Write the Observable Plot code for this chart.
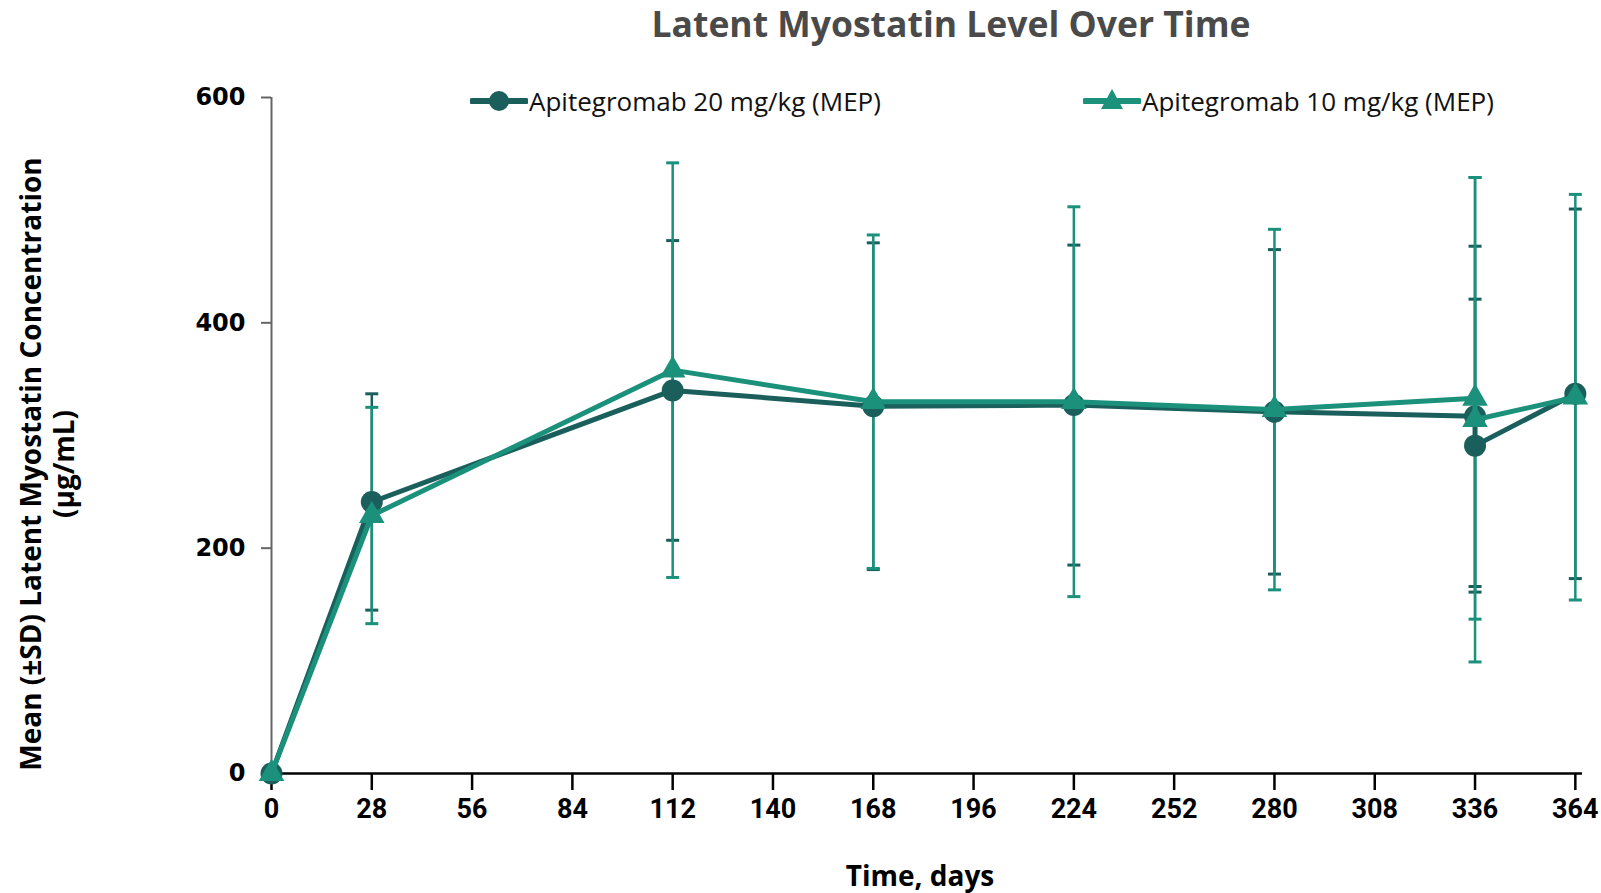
<!DOCTYPE html>
<html>
<head>
<meta charset="utf-8">
<script src="https://cdn.jsdelivr.net/npm/d3@7"></script>
<script src="https://cdn.jsdelivr.net/npm/@observablehq/plot@0.6"></script>
<style>
  html, body { margin: 0; padding: 0; background: #fff; }
  #wrap { position: relative; width: 1601px; height: 893px; overflow: hidden; }
  #chart { position: absolute; left: 0; top: 0; }
  .title { position: absolute; left: 0; width: 1902px; top: 0; height: 46px; line-height: 46px; text-align: center;
           font-family: "Open Sans", sans-serif; font-weight: 700; font-size: 35.5px; color: #4a4a4a; white-space: nowrap; }
  .leg { position: absolute; top: 86px; height: 30px; display: flex; align-items: center; white-space: nowrap;
         font-family: "Open Sans", sans-serif; font-size: 26px; color: #111; }
  .leg svg { margin-right: 1px; }
  .ylab { position: absolute; width: 800px; left: -353px; top: 431px; height: 66px; line-height: 33px; text-align: center;
          transform: rotate(-90deg); font-family: "Open Sans", sans-serif; font-weight: 700; font-size: 28px; color: #000; white-space: nowrap; }
  .xlab { position: absolute; left: 720px; width: 400px; top: 857px; height: 36px; line-height: 36px; text-align: center;
          font-family: "Open Sans", sans-serif; font-weight: 700; font-size: 28px; color: #000; }
</style>
</head>
<body>
<div id="wrap">
  <div id="chart"></div>
  <div class="title">Latent Myostatin Level Over Time</div>
  <div class="leg" style="left:470px">
    <svg width="58" height="30"><line x1="2" y1="15" x2="56" y2="15" stroke="#1a5f5c" stroke-width="6" stroke-linecap="round"/><circle cx="29" cy="15" r="10" fill="#1a5f5c"/></svg>
    <span>Apitegromab 20 mg/kg (MEP)</span>
  </div>
  <div class="leg" style="left:1083px">
    <svg width="58" height="30"><line x1="2" y1="15" x2="56" y2="15" stroke="#1b917b" stroke-width="6" stroke-linecap="round"/><polygon points="29,3 40,23 18,23" fill="#1b917b"/></svg>
    <span>Apitegromab 10 mg/kg (MEP)</span>
  </div>
  <div class="ylab">Mean (±SD) Latent Myostatin Concentration<br>(µg/mL)</div>
  <div class="xlab">Time, days</div>
</div>
<script>
// ---- data ----
const seriesNames = ["Apitegromab 20 mg/kg (MEP)", "Apitegromab 10 mg/kg (MEP)"];
const days20 = [0, 28, 112, 168, 224, 280, 336, 336, 364];
const mean20 = [0, 241, 340, 326, 327, 321, 317, 291, 337];
const sd20   = [0, 96, 133, 145, 142, 144, 151, 130, 164];
const days10 = [0, 28, 112, 168, 224, 280, 336, 336, 364];
const mean10 = [0, 229, 358, 330, 330, 323, 333, 314, 334];
const sd10   = [0, 96, 184, 148, 173, 160, 196, 215, 180];
const xTicks = [0, 28, 56, 84, 112, 140, 168, 196, 224, 252, 280, 308, 336, 364];
const yTicks = [0, 200, 400, 600];

const colors = ["#1a5f5c", "#1b917b"];

const mk = (days, means, sds) => days.map((d, i) => ({day: d, mean: means[i], lo: means[i] - sds[i], hi: means[i] + sds[i], sd: sds[i]}));
const s20 = mk(days20, mean20, sd20);
const s10 = mk(days10, mean10, sd10);
const err20 = s20.filter(d => d.sd > 0);
const err10 = s10.filter(d => d.sd > 0);

const capSymbol = {
  draw(context, size) {
    const w = 6.5;
    context.moveTo(-w, 0);
    context.lineTo(w, 0);
  }
};

const errMarks = (err, color) => [
  Plot.ruleX(err, {x: "day", y1: "lo", y2: "hi", stroke: color, strokeWidth: 2.5}),
  Plot.dot(err, {x: "day", y: "lo", symbol: capSymbol, stroke: color, strokeWidth: 3, r: 5}),
  Plot.dot(err, {x: "day", y: "hi", symbol: capSymbol, stroke: color, strokeWidth: 3, r: 5})
];

const chart = Plot.plot({
  width: 1601,
  height: 893,
  marginLeft: 271,
  marginRight: 19,
  marginTop: 97,
  marginBottom: 120,
  style: {background: "transparent", overflow: "visible"},
  x: {domain: [0, 366]},
  y: {domain: [0, 600]},
  marks: [
    Plot.ruleX([0], {y1: 0, y2: 600, stroke: "#666", strokeWidth: 2}),
    Plot.axisY({ticks: yTicks, tickSize: 10, tickPadding: 16, stroke: "#666", strokeWidth: 2, fill: "#000",
                fontSize: 24, fontWeight: "bold", fontFamily: "DejaVu Sans", label: null}),
    Plot.axisX({ticks: xTicks, tickSize: 17, tickPadding: 8, stroke: "#000", strokeWidth: 2.5, fill: "#000",
                fontSize: 27, fontWeight: "bold", fontFamily: "Roboto, sans-serif", label: null}),
    ...errMarks(err20, colors[0]),
    ...errMarks(err10, colors[1]),
    Plot.ruleY([0], {stroke: "#000", strokeWidth: 2.5}),
    Plot.line(s20, {x: "day", y: "mean", stroke: colors[0], strokeWidth: 5, strokeLinejoin: "round"}),
    Plot.dot(s20, {x: "day", y: "mean", fill: colors[0], r: 11, symbol: "circle"}),
    Plot.line(s10, {x: "day", y: "mean", stroke: colors[1], strokeWidth: 5, strokeLinejoin: "round"}),
    Plot.dot(s10, {x: "day", y: "mean", fill: colors[1], r: 9.5, symbol: "triangle"})
  ]
});
document.getElementById("chart").appendChild(chart);
</script>
</body>
</html>
